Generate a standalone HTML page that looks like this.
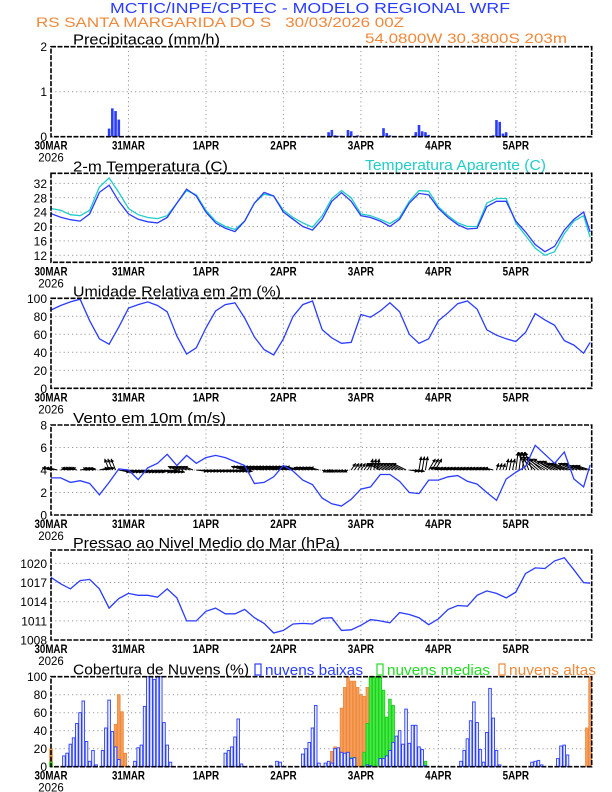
<!DOCTYPE html>
<html><head><meta charset="utf-8"><style>
html,body{margin:0;padding:0;background:#fff;}
svg{display:block;font-family:"Liberation Sans",sans-serif;}
</style></head><body>
<svg id="chart" xmlns="http://www.w3.org/2000/svg" width="612" height="792" viewBox="0 0 612 792">
<rect width="612" height="792" fill="#fff"/>
<text x="110" y="13" font-size="15" fill="#2a3cff" textLength="400" lengthAdjust="spacingAndGlyphs">MCTIC/INPE/CPTEC - MODELO REGIONAL WRF</text>
<text x="36" y="27" font-size="14" fill="#f0883a" textLength="368" lengthAdjust="spacingAndGlyphs" xml:space="preserve">RS SANTA MARGARIDA DO S   30/03/2026 00Z</text>
<text x="365" y="43" font-size="14" fill="#f0883a" textLength="202" lengthAdjust="spacingAndGlyphs">54.0800W 30.3800S 203m</text>
<g id="panels"></g>
</svg>
<script>
const hours3=[0,3,6,9,12,15,18,21,24,27,30,33,36,39,42,45,48,51,54,57,60,63,66,69,72,75,78,81,84,87,90,93,96,99,102,105,108,111,114,117,120,123,126,129,132,135,138,141,144,147,150,153,156,159,162,165,167];
const temp=[23.6,22.6,21.9,21.5,23.5,29.5,31.5,27,23.5,22,21.3,21,22.5,26.5,30.4,28.5,24,21,19.5,18.6,21.5,26.5,29.5,28.5,24,22,20,19,22,27,29.4,27,23,22.5,21.5,20,22,26.5,29.2,28.8,25,22.5,20.5,19.3,19.5,25.5,27,27,21.5,18.5,15,13,14.5,19,22,24,18.5];
const tempAp=[25,24.5,23.3,23,24.5,31,33.5,29.5,25,23.3,22.5,22.2,23,26.5,30,28.8,24.5,21.5,20,19.2,21.5,26.5,29,28.5,24.5,22.5,21,19.8,23,27.8,30,28,23.5,23,22,20.8,22.5,27,30,29.8,25.5,23,21,20,20,26.5,27.8,27.8,21,17.5,14,12,13,18,21.5,23,17];
const rh=[87,92,96,99,75,55,49,68,89,93,96,92,85,58,38,45,67,86,93,95,78,57,43,37,55,80,93,97,65,56,50,51,82,79,86,95,85,60,50,55,75,84,94,97,88,65,59,55,52,62,83,76,70,53,48,39,51];
const wspd=[3.3,3.3,2.9,3.05,2.8,1.8,2.9,4.1,4.0,3.15,4.2,4.6,5.4,4.4,5.3,4.6,5.1,5.3,5.1,4.75,4.4,2.8,2.9,3.4,4.4,3.9,3.1,2.7,1.5,1.0,0.8,1.4,2.3,2.5,3.6,3.6,3.0,2.0,1.9,3.1,3.1,3.4,3.5,3.0,2.75,2.0,1.3,3.2,3.8,4.3,6.2,5.4,4.6,5.6,3.2,2.5,4.45];
const windU=[-2,2,-2,2,-1.5,2,-1,2.5,2.5,2.5,2.5,3,2.5,-2,-2,2.5,2.5,2.5,2.5,2.5,-3,-3,-3,-3,-3,-3,-2,-2,1,-1,-1,1,1,0.5,-3,-3,-3,2,0.5,1.5,-2,-2,-2,-2,-2,-2,0.5,0.5,0.5,-1.5,-3.5,-4,-4,-4,-3.5,-3,-3];
const windV=[0.5,0.5,0.5,0.3,0.5,0.5,2.5,-0.5,-0.5,-0.5,-0.5,-0.5,-0.5,0.8,0.8,-0.3,-0.3,-0.3,-0.3,-0.3,0.8,0.8,0.8,0.8,0.8,0.8,0.6,0.6,-0.5,-0.5,-0.5,1.5,1.5,2.5,1.5,1.5,1.5,-0.3,3,2.5,0.5,0.5,0.5,0.5,0.5,0.5,1.5,2.5,4,4,3,2.5,2,1.5,1.5,1,1];
const pres=[1017.8,1016.8,1016,1017.3,1017.5,1016,1013,1014.5,1015.3,1015,1015,1014.7,1016,1014.6,1011,1011,1012.5,1013,1012.1,1012.1,1012.8,1011.5,1010.6,1009.1,1009.5,1010.5,1010.6,1010.5,1011.4,1011.5,1009.5,1009.6,1010.3,1011.2,1011,1010.7,1012.3,1012,1011.5,1010.4,1011.3,1012.8,1013.4,1013.3,1015,1015.7,1015.3,1014.6,1015.5,1018.4,1019.3,1019.2,1020.4,1020.9,1019,1017,1016.9];
const precipH=[18,19,20,21,79,86,87,88,89,90,92,93,95,103,104,105,113,114,115,116,117,131,137,138,139,140,141];
const precipV=[0.18,0.63,0.57,0.38,0.01,0.1,0.15,0.03,0.02,0.02,0.15,0.12,0.03,0.19,0.08,0.03,0.1,0.26,0.12,0.1,0.04,0.01,0.03,0.37,0.33,0.07,0.1];
const lowH=[4,5,6,7,8,9,10,11,12,13,14,16,17,18,19,20,21,26,27,28,29,30,31,32,33,34,35,36,37,54,55,56,57,58,59,68,70,71,78,79,80,81,82,83,85,86,87,88,89,90,91,92,93,94,98,99,102,103,104,105,106,107,108,109,110,111,112,113,114,115,116,127,128,129,130,131,132,133,134,135,136,137,138,139,149,150,151,152,157,158,159,160];
const lowV=[12,15,25,32,48,60,73,28,6,18,2,18,43,74,39,22,8,6,21,24,67,100,100,97,100,100,49,24,5,15,18,22,33,53,3,1,6,5,14,20,27,43,68,4,4,6,4,20,21,16,15,16,9,10,2,1,9,9,12,18,27,34,40,25,64,26,46,46,22,19,1,6,18,31,51,72,49,19,5,38,87,54,18,2,5,6,7,2,9,23,24,13];
const midH=[0,93,94,97,98,99,100,101,102,103,104,105,106,113,116];
const midV=[5,10,10,16,48,100,100,100,100,85,55,75,68,3,6];
const highH=[0,19,20,21,22,23,87,88,89,90,91,92,93,94,95,96,97,98,99,100,101,166,167];
const highV=[20,27,47,80,61,15,17,22,17,65,88,100,95,95,88,80,78,88,100,100,100,43,100];
const dayLabels=["30MAR","31MAR","1APR","2APR","3APR","4APR","5APR"];
const precipTicks=[0,1,2], tempTicks=[12,16,20,24,28,32], rhTicks=[0,20,40,60,80,100];
const windTicks=[0,2,4,6,8], presTicks=[1008,1011,1014,1017,1020], cloudTicks=[0,20,40,60,80,100];

const NS="http://www.w3.org/2000/svg";
const root=document.getElementById('panels');
const X0=51, X1=591.7, HMAX=167.5;
function X(h){return X0+(X1-X0)*h/HMAX;}
function mk(tag,attrs,parent){const e=document.createElementNS(NS,tag);for(const k in attrs)e.setAttribute(k,attrs[k]);(parent||root).appendChild(e);return e;}
function panel(name,top,bot,min,max,ticks,title){
  const g=mk('g',{});
  
  
  const Y=v=>bot-(v-min)/(max-min)*(bot-top);
  for(let d=1;d<7;d++){const l=mk('line',{x1:X(d*24),x2:X(d*24),y1:top,y2:bot,stroke:'#999','stroke-dasharray':'1.2,3','stroke-width':1},g);
    }
  ticks.forEach(t=>{
    if(t>min&&t<max){const l=mk('line',{x1:X0,x2:X1,y1:Y(t),y2:Y(t),stroke:'#999','stroke-dasharray':'1.2,3','stroke-width':1},g);
      }
    const tx=mk('text',{x:47,y:Y(t)+4.5,'font-size':12,'text-anchor':'end',fill:'#000'},g);tx.textContent=t;
    
  });
  dayLabels.forEach((s,i)=>{
    const tx=mk('text',{x:X(i*24),y:bot+13,'font-size':11.5,'font-weight':'bold','text-anchor':'middle',textLength:s.length*6.6,lengthAdjust:'spacingAndGlyphs'},g);tx.textContent=s;
    
  });
  const yr=mk('text',{x:X0,y:bot+25,'font-size':11.5,'text-anchor':'middle'},g);yr.textContent='2026';
  
  const tt=mk('text',{x:73,y:top-2,'font-size':14.5,fill:'#000',textLength:title[1],lengthAdjust:'spacingAndGlyphs'},g);tt.textContent=title[0];
  
  return {g,Y,top,bot};
}
function frame(p){const r=mk('rect',{x:X0,y:p.top,width:X1-X0,height:p.bot-p.top,fill:'none',stroke:'#000','stroke-width':1.6,'stroke-dasharray':'5,1.5'},p.g);
  }
function line(p,vals,color,name){
  const d=vals.map((v,i)=>(i?'L':'M')+X(hours3[i]).toFixed(1)+','+p.Y(v).toFixed(1)).join('');
  const e=mk('path',{d,fill:'none',stroke:color,'stroke-width':1.3},p.g);
  
}
function bars(p,hs,vs,fill,stroke,name){
  hs.forEach((h,i)=>{const y=p.Y(vs[i]);
    const r=mk('rect',{x:X(h)-1.3,y:y,width:2.6,height:Math.max(p.bot-y,0.5),fill:fill,stroke:stroke,'stroke-width':stroke==='none'?0:0.9},p.g);
    });
}
// Precip
const p1=panel('precipitation',46.7,136.7,0,2,precipTicks,['Precipitacao (mm/h)',147]);
bars(p1,precipH,precipV,'#2a3cff','none','precip-bar');frame(p1);
// Temperature
const p2=panel('temperature',173.3,262.3,10.05,34.8,tempTicks,['2-m Temperatura (C)',155]);
const ta=mk('text',{x:365,y:170,'font-size':14.5,fill:'#22ccc8',textLength:181,lengthAdjust:'spacingAndGlyphs'},p2.g);ta.textContent='Temperatura Aparente (C)';

line(p2,tempAp,'#22ccc8','apparent-temp-line');line(p2,temp,'#2a3cff','temp-line');frame(p2);
// RH
const p3=panel('humidity',298.3,388.3,0,100,rhTicks,['Umidade Relativa em 2m (%)',208]);
line(p3,rh,'#2a3cff','rh-line');frame(p3);
// Wind
const p4=panel('wind',425,515,0,8,windTicks,['Vento em 10m (m/s)',153]);
const yb=p4.Y(4);
const WS=4.5;
for(let h=0;h<=167;h++){
  const i=Math.min(Math.floor(h/3),windU.length-1);
  const x0=X(h), x1=x0+windU[i]*WS, y1=yb-windV[i]*WS;
  const L=Math.hypot(x1-x0,y1-yb)||1, ux=(x1-x0)/L, uy=(y1-yb)/L;
  const g=mk('g',{},p4.g);
  
  
  mk('line',{x1:x0,y1:yb,x2:x1,y2:y1,stroke:'#000','stroke-width':1},g);
  const hx=x1-ux*3.5, hy=y1-uy*3.5;
  mk('polygon',{points:`${x1},${y1} ${hx-uy*2},${hy+ux*2} ${hx+uy*2},${hy-ux*2}`,fill:'#000'},g);
}
line(p4,wspd,'#2a3cff','wind-speed-line');frame(p4);
// Pressure
const p5=panel('pressure',550,640,1008,1022.1,presTicks,['Pressao ao Nivel Medio do Mar (hPa)',267]);
line(p5,pres,'#2a3cff','pressure-line');frame(p5);
// Clouds
const p6=panel('clouds',676.7,766.7,0,100,cloudTicks,['Cobertura de Nuvens (%)',176]);
bars(p6,highH,highV,'#f5a060','#f08a3a','high-cloud-bar');
bars(p6,midH,midV,'#44ee44','#22cc22','mid-cloud-bar');
bars(p6,lowH,lowV,'#e8ecff','#2a3cff','low-cloud-bar');
frame(p6);
const leg=[[255,'nuvens baixas','#2a3cff',98],[377,'nuvens medias','#22dd22',103],[499,'nuvens altas','#f08a3a',87]];
leg.forEach(l=>{
  const b=mk('rect',{x:l[0],y:664,width:6,height:11,fill:'none',stroke:l[2],'stroke-width':1.2},p6.g);
  
  const t=mk('text',{x:l[0]+10,y:675,'font-size':14.5,fill:l[2],textLength:l[3],lengthAdjust:'spacingAndGlyphs'},p6.g);t.textContent=l[1];
  
});
</script>
</body></html>
